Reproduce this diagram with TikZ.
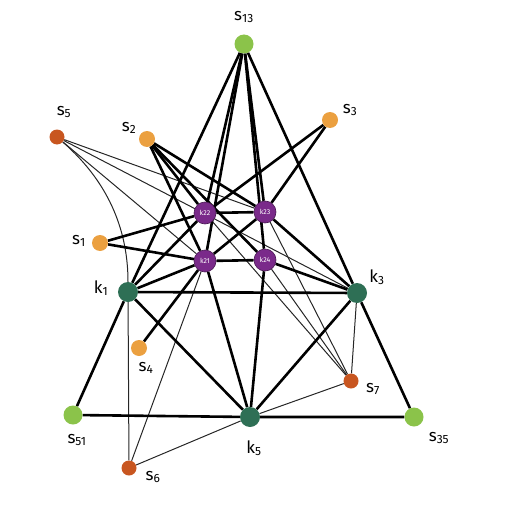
\documentclass[tikz,border=0pt]{standalone}
\usepackage{fontspec}
\setmainfont{Fira Sans}
\usetikzlibrary{backgrounds}
\definecolor{lgreen}{RGB}{139,195,74}
\definecolor{dgreen}{RGB}{46,111,85}
\definecolor{sorange}{RGB}{235,160,64}
\definecolor{dorange}{RGB}{200,86,32}
\definecolor{rpurple}{RGB}{122,42,138}
\tikzset{
  dot/.style={circle,inner sep=0pt,minimum size=#1},
  gnode/.style={dot=19pt,fill=lgreen},
  onode/.style={dot=16pt,fill=sorange},
  dnode/.style={dot=15pt,fill=dorange},
  knode/.style={dot=20pt,fill=dgreen},
  rnode/.style={dot=22pt,fill=rpurple,draw=rpurple!60!black,line width=0.6pt,text=white,font=\fontsize{7}{7}\selectfont},
  lab/.style={font=\fontsize{17}{18}\selectfont},
  thick edge/.style={line width=2.6pt,black},
  thin edge/.style={line width=1pt,black!85}
}
\newcommand{\slab}[2]{#1\textsubscript{#2}}
\begin{document}
\begin{tikzpicture}[x=1pt,y=-1pt]
\useasboundingbox (0,0) rectangle (506,508);
% nodes
\node[gnode] (s13) at (244,44) {};
\node[gnode] (s51) at (73,415) {};
\node[gnode] (s35) at (414,417) {};
\node[dnode] (s5) at (57,137) {};
\node[dnode] (s6) at (129,468) {};
\node[dnode] (s7) at (351,381) {};
\node[onode] (s1) at (100,243) {};
\node[onode] (s2) at (147,139) {};
\node[onode] (s3) at (330,120) {};
\node[onode] (s4) at (139,348) {};
\node[knode] (k1) at (128,292) {};
\node[knode] (k3) at (357,293) {};
\node[knode] (k5) at (250,417) {};
\node[rnode] (r22) at (205,213) {k22};
\node[rnode] (r23) at (265,212) {k23};
\node[rnode] (r21) at (205,261) {k21};
\node[rnode] (r24) at (265,260) {k24};
% labels
\node[lab] (l13) at (244,17) {\slab{s}{13}};
\node[lab] (l5) at (64,112) {\slab{s}{5}};
\node[lab] (l2) at (129,128) {\slab{s}{2}};
\node[lab] (l3) at (350,110) {\slab{s}{3}};
\node[lab] (l1) at (79,241) {\slab{s}{1}};
\node[lab] (lk1) at (101,288) {\slab{k}{1}};
\node[lab] (lk3) at (377,277) {\slab{k}{3}};
\node[lab] (l4) at (146,368) {\slab{s}{4}};
\node[lab] (l7) at (373,389) {\slab{s}{7}};
\node[lab] (l51) at (77,440) {\slab{s}{51}};
\node[lab] (lk5) at (254,448) {\slab{k}{5}};
\node[lab] (l35) at (439,438) {\slab{s}{35}};
\node[lab] (l6) at (153,477) {\slab{s}{6}};
\begin{scope}[on background layer]
% thin edges
\draw[thin edge] (s5) .. controls (112,185) and (128,235) .. (k1);
\draw[thin edge] (s5) -- (k3);
\draw[thin edge] (s5) -- (r23);
\draw[thin edge] (s5) -- (r21);
\draw[thin edge] (s6) -- (k1);
\draw[thin edge] (s6) -- (k5);
\draw[thin edge] (s6) -- (r21);
\draw[thin edge] (s7) -- (k3);
\draw[thin edge] (s7) -- (k5);
\draw[thin edge] (s7) -- (r22);
\draw[thin edge] (s7) -- (r23);
\draw[thin edge] (s7) -- (r24);
% thick edges
\draw[thick edge] (s13) -- (k1) -- (s51);
\draw[thick edge] (s13) -- (k3) -- (s35);
\draw[thick edge] (s51) -- (k5) -- (s35);
\draw[thick edge] (k1) -- (k3);
\draw[thick edge] (k1) -- (k5);
\draw[thick edge] (k3) -- (k5);
\foreach \r in {r21,r22,r23,r24} \draw[thick edge] (s13) -- (\r);
\draw[thick edge] (r22) -- (r23);
\draw[thick edge] (r21) -- (r24);
\draw[thick edge] (r21) -- (r23);
\draw[thick edge] (s1) -- (r22);
\draw[thick edge] (s1) -- (r21);
\foreach \r in {r21,r22,r23,r24} \draw[thick edge] (s2) -- (\r);
\draw[thick edge] (s3) -- (r22);
\draw[thick edge] (s3) -- (r23);
\draw[thick edge] (s4) -- (r21);
\draw[thick edge] (k1) -- (r22);
\draw[thick edge] (k1) -- (r21);
\draw[thick edge] (k3) -- (r23);
\draw[thick edge] (k3) -- (r24);
\draw[thick edge] (k5) -- (r21);
\draw[thick edge] (k5) -- (r24);
\end{scope}
\end{tikzpicture}
\end{document}
